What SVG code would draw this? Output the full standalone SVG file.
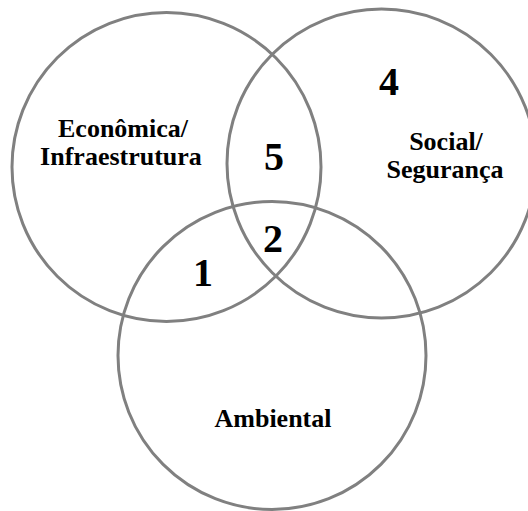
<svg xmlns="http://www.w3.org/2000/svg" width="528" height="511" viewBox="0 0 528 511">
  <style>
    .ring { fill: none; stroke: #808080; stroke-width: 3; }
    .label { font-family: "Liberation Serif", "Times New Roman", serif; font-weight: bold; font-size: 26px; fill: #000; text-anchor: middle; }
    .num { font-family: "Liberation Serif", "Times New Roman", serif; font-weight: bold; font-size: 40px; fill: #000; text-anchor: middle; }
  </style>
  <rect width="528" height="511" fill="#fff"/>
  <g id="economica">
    <circle class="ring" cx="166.5" cy="167" r="154.5"/>
    <text class="label" x="123" y="137">Econômica/</text>
    <text class="label" x="121" y="165">Infraestrutura</text>
  </g>
  <g id="social">
    <circle class="ring" cx="381.5" cy="163.5" r="154.5"/>
    <text class="label" x="446" y="150">Social/</text>
    <text class="label" x="445" y="178">Segurança</text>
  </g>
  <g id="ambiental">
    <circle class="ring" cx="272" cy="355.5" r="154"/>
    <text class="label" x="273" y="427">Ambiental</text>
  </g>
  <g id="regions">
    <text class="num" x="389" y="95">4</text>
    <text class="num" x="274" y="170">5</text>
    <text class="num" x="273" y="252">2</text>
    <text class="num" x="203" y="286">1</text>
  </g>
</svg>
